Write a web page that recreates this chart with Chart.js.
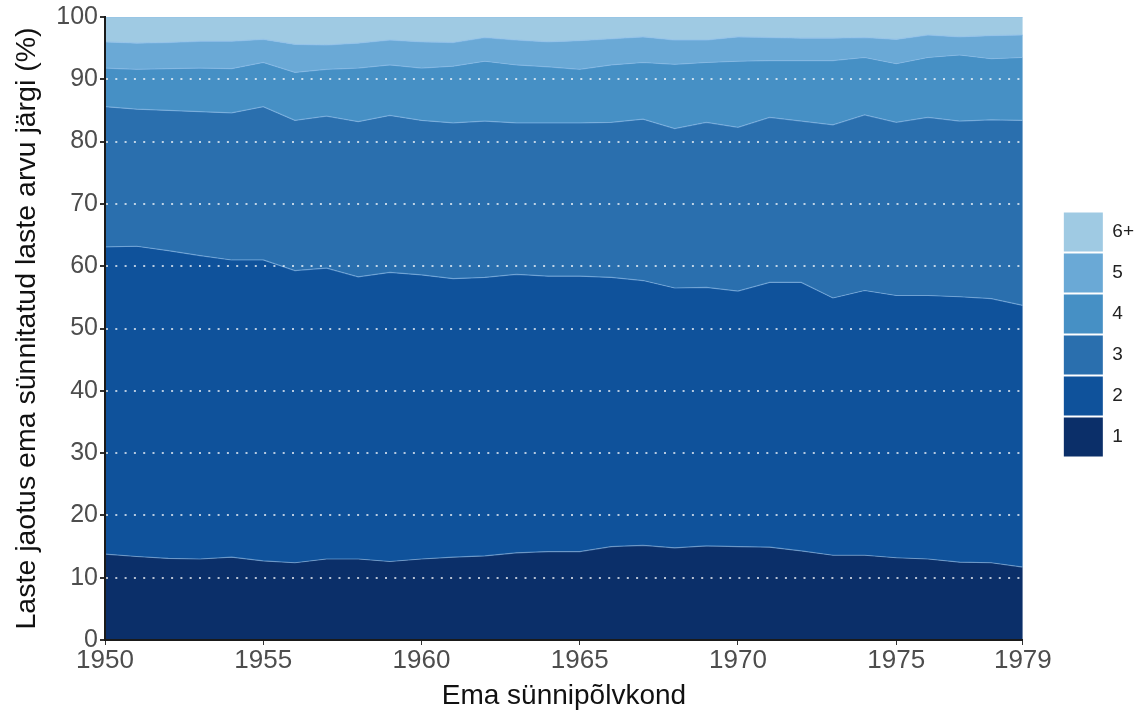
<!DOCTYPE html>
<html>
<head>
<meta charset="utf-8">
<script src="https://cdn.jsdelivr.net/npm/chart.js@4.4.1/dist/chart.umd.min.js"></script>
<style>
  html, body { margin: 0; padding: 0; background: #fff; }
  #wrap { width: 1143px; height: 713px; }
</style>
</head>
<body>
<div id="wrap"><canvas id="chart"></canvas></div>
<script>
const years = [1950, 1951, 1952, 1953, 1954, 1955, 1956, 1957, 1958, 1959,
               1960, 1961, 1962, 1963, 1964, 1965, 1966, 1967, 1968, 1969,
               1970, 1971, 1972, 1973, 1974, 1975, 1976, 1977, 1978, 1979];
const tickYears = [1950, 1955, 1960, 1965, 1970, 1975, 1979];

// share of mothers (%) by number of children
const share1 = [13.8, 13.4, 13.1, 13.0, 13.3, 12.7, 12.4, 13.0, 13.0, 12.6,
                13.0, 13.3, 13.5, 14.0, 14.2, 14.2, 15.0, 15.2, 14.8, 15.1,
                15.0, 14.9, 14.3, 13.6, 13.6, 13.2, 13.0, 12.5, 12.4, 11.7];
const share2 = [49.3, 49.8, 49.4, 48.7, 47.7, 48.3, 46.9, 46.7, 45.3, 46.4,
                45.6, 44.7, 44.7, 44.7, 44.2, 44.2, 43.2, 42.5, 41.7, 41.5,
                41.0, 42.5, 43.1, 41.3, 42.5, 42.1, 42.3, 42.6, 42.4, 42.0];
const share3 = [22.5, 22.0, 22.5, 23.1, 23.6, 24.6, 24.1, 24.4, 24.9, 25.2,
                24.8, 25.0, 25.1, 24.3, 24.6, 24.6, 24.9, 25.9, 25.6, 26.5,
                26.3, 26.5, 25.9, 27.8, 28.2, 27.8, 28.6, 28.2, 28.7, 29.7];
const share4 = [6.2, 6.4, 6.7, 7.0, 7.1, 7.1, 7.7, 7.5, 8.6, 8.1,
                8.4, 9.1, 9.6, 9.3, 9.0, 8.6, 9.2, 9.1, 10.3, 9.6,
                10.6, 9.1, 9.7, 10.3, 9.2, 9.4, 9.6, 10.6, 9.8, 10.1];
const share5 = [4.2, 4.2, 4.2, 4.3, 4.4, 3.7, 4.5, 3.9, 4.0, 4.0,
                4.2, 3.8, 3.8, 4.0, 4.0, 4.6, 4.2, 4.1, 3.9, 3.6,
                3.9, 3.7, 3.6, 3.6, 3.2, 3.9, 3.6, 2.9, 3.7, 3.6];
const share6 = [4.0, 4.2, 4.1, 3.9, 3.9, 3.6, 4.4, 4.5, 4.2, 3.7,
                4.0, 4.1, 3.3, 3.7, 4.0, 3.8, 3.5, 3.2, 3.7, 3.7,
                3.2, 3.3, 3.4, 3.4, 3.3, 3.6, 2.9, 3.2, 3.0, 2.9];

const seriesNames = ['1', '2', '3', '4', '5', '6+'];
const seriesValues = [share1, share2, share3, share4, share5, share6];
const seriesColors = ['#0b2f69', '#0f529b', '#2a6fae', '#4690c5', '#6aa9d6', '#9fcae3'];

const fontFamily = '"Liberation Sans", Arial, sans-serif';

const datasets = seriesValues.map((vals, i) => ({
    label: seriesNames[i],
    data: vals.map((v, j) => ({ x: years[j], y: v })),
    backgroundColor: seriesColors[i],
    borderColor: 'rgba(140, 190, 235, 0.55)',
    borderWidth: 1.2,
    pointRadius: 0,
    tension: 0,
    fill: i === 0 ? 'origin' : '-1'
}));

// leave a gap between the plot and the legend, and lift the legend a bit
const legendGap = {
    id: 'legendGap',
    beforeInit(chart) {
        const legend = chart.legend;
        const fit = legend.fit;
        legend.fit = function () {
            fit.call(this);
            this.width += 36;
        };
    },
    afterLayout(chart) {
        const legend = chart.legend;
        legend.left += 39;
        legend.top -= 30;
        legend.bottom -= 30;
    }
};

new Chart(document.getElementById('chart'), {
    type: 'line',
    data: { datasets },
    plugins: [legendGap],
    options: {
        responsive: true,
        maintainAspectRatio: false,
        animation: false,
        layout: { padding: { top: 16, right: 2, left: 0, bottom: 0 } },
        plugins: {
            tooltip: { enabled: false },
            legend: {
                position: 'right',
                reverse: true,
                labels: {
                    boxWidth: 39,
                    boxHeight: 39,
                    padding: 2,
                    color: '#222',
                    font: { family: fontFamily, size: 19 },
                    generateLabels: chart => Chart.defaults.plugins.legend.labels.generateLabels(chart)
                        .map(l => ({ ...l, lineWidth: 0, strokeStyle: l.fillStyle }))
                }
            }
        },
        scales: {
            x: {
                type: 'linear',
                min: 1950,
                max: 1979,
                afterBuildTicks: scale => { scale.ticks = tickYears.map(v => ({ value: v })); },
                afterFit: scale => { scale.height = 73; },
                ticks: {
                    color: '#4d4d4d',
                    font: { family: fontFamily, size: 26 },
                    padding: 0,
                    maxRotation: 0,
                    z: 1,
                    callback: v => String(v)
                },
                grid: { display: true, drawOnChartArea: false, tickLength: 5, tickColor: '#333', z: 1 },
                border: { display: true, color: '#1a1a1a', width: 2, z: 1 },
                title: {
                    display: true,
                    text: 'Ema sünnipõlvkond',
                    color: '#111',
                    font: { family: fontFamily, size: 28 },
                    padding: { top: 0, bottom: 0 }
                }
            },
            y: {
                stacked: true,
                min: 0,
                max: 100,
                afterFit: scale => { scale.width = 105; },
                ticks: {
                    stepSize: 10,
                    color: '#4d4d4d',
                    font: { family: fontFamily, size: 25 },
                    padding: 2,
                    z: 1
                },
                grid: {
                    color: c => (c.tick && c.tick.value > 0 && c.tick.value < 100) ? 'rgba(255,255,255,0.7)' : 'rgba(0,0,0,0)',
                    lineWidth: 2,
                    tickLength: 5,
                    tickColor: '#333',
                    tickBorderDash: [],
                    z: 1
                },
                border: { display: true, color: '#1a1a1a', width: 2, dash: [2, 7.3], z: 1 },
                title: {
                    display: true,
                    text: 'Laste jaotus ema sünnitatud laste arvu järgi (%)',
                    color: '#111',
                    font: { family: fontFamily, size: 28.5 },
                    padding: { top: 10, bottom: 0 }
                }
            }
        }
    }
});
</script>
</body>
</html>
